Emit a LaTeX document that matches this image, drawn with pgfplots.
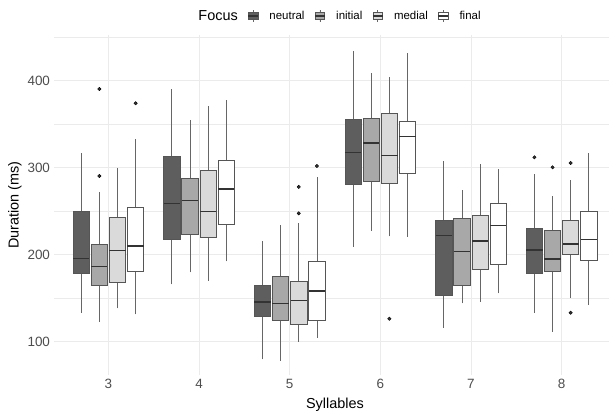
\documentclass[border=0pt]{standalone}
\usepackage{pgfplots}
\pgfplotsset{compat=1.18}
\usepackage{fontspec}
\setmainfont{Liberation Sans}
\definecolor{cneu}{HTML}{5E5E5E}
\definecolor{cini}{HTML}{A8A8A8}
\definecolor{cmed}{HTML}{DADADA}
\definecolor{cfin}{HTML}{FFFFFF}
\definecolor{edgec}{HTML}{555555}
\definecolor{whiskc}{HTML}{666666}
\definecolor{medc}{HTML}{333333}
\definecolor{gridc}{HTML}{EBEBEB}
\definecolor{tickc}{HTML}{4D4D4D}
% pos, fill, lower whisker, lower quartile, median, upper quartile, upper whisker
\newcommand{\bx}[7]{%
  \pgfmathsetmacro{\xl}{#1-0.09}%
  \pgfmathsetmacro{\xr}{#1+0.09}%
  \addplot[draw=whiskc, line width=0.7bp] coordinates {(#1,#3) (#1,#4)};
  \addplot[draw=whiskc, line width=0.7bp] coordinates {(#1,#6) (#1,#7)};
  \edef\tmp{\noexpand\addplot[fill=#2, draw=edgec, line width=0.7bp]
    coordinates {(\xl,#4) (\xr,#4) (\xr,#6) (\xl,#6) (\xl,#4)} -- cycle;
    \noexpand\addplot[draw=medc, line width=1.4bp]
    coordinates {(\xl,#5) (\xr,#5)};}%
  \tmp}
\pgfplotsset{
  boxkey/.style={legend image code/.code={
    \draw[draw=whiskc, line width=0.6bp] (0.17cm,-0.2cm) -- (0.17cm,0.2cm);
    \draw[##1, draw=edgec, line width=0.6bp] (0cm,-0.12cm) rectangle (0.34cm,0.12cm);
    \draw[draw=medc, line width=1.1bp] (0cm,0cm) -- (0.34cm,0cm);
  }},
  outl/.style={only marks, mark=*, mark size=1.7bp,
    mark options={fill=medc, draw=none}}
}
\begin{document}
\begin{tikzpicture}
\useasboundingbox (0bp,0bp) rectangle (609bp,412bp);
\begin{axis}[
  at={(54bp,36.7bp)}, anchor=south west,
  scale only axis, width=562bp, height=340.7bp,
  xmin=2.4, xmax=8.6, ymin=61, ymax=453,
  axis line style={draw=none},
  xtick={3,4,5,6,7,8}, ytick={100,200,300,400},
  minor ytick={150,250,350,450},
  major tick length=0pt, minor tick length=0pt,
  xmajorgrids, ymajorgrids, yminorgrids,
  major grid style={draw=gridc, line width=0.9bp},
  minor grid style={draw=gridc, line width=0.5bp},
  /pgf/number format/assume math mode=true,
  /pgf/number format/1000 sep={},
  tick label style={font=\fontsize{13.5}{15}\selectfont, text=tickc},
  xticklabel style={yshift=-0.5bp},
  yticklabel style={xshift=-0.5bp},
  xlabel={Syllables}, ylabel={Duration (ms)},
  label style={font=\fontsize{14.5}{16}\selectfont},
  xlabel style={at={(axis description cs:0.5,-0.086)}, anchor=center},
  ylabel style={at={(axis description cs:-0.0694,0.5)}, anchor=center},
  legend style={at={(axis description cs:0.5,1.0546)}, anchor=center,
    draw=none, fill=none, font=\fontsize{11.5}{13}\selectfont,
    /tikz/every odd column/.append style={column sep=9bp},
    /tikz/every even column/.append style={column sep=8bp}},
  legend columns=-1,
  legend cell align=left,
]
% legend
\addlegendimage{empty legend}
\addlegendentry{\fontsize{14.5}{16}\selectfont Focus}
\addlegendimage{boxkey, fill=cneu}
\addlegendentry{neutral}
\addlegendimage{boxkey, fill=cini}
\addlegendentry{initial}
\addlegendimage{boxkey, fill=cmed}
\addlegendentry{medial}
\addlegendimage{boxkey, fill=cfin}
\addlegendentry{final}
% 3 syllables
\bx{2.7}{cneu}{133}{178}{195.6}{250}{316.4}
\bx{2.9}{cini}{122.3}{165}{186}{211.7}{271.6}
\bx{3.1}{cmed}{138}{168}{204.4}{242.8}{299}
\bx{3.3}{cfin}{131}{181}{209.8}{253.9}{333}
% 4 syllables
\bx{3.7}{cneu}{165.7}{217}{258.5}{313.4}{390}
\bx{3.9}{cini}{179.5}{223}{262.4}{287.7}{354.4}
\bx{4.1}{cmed}{170}{219.3}{249.3}{296.9}{371.2}
\bx{4.3}{cfin}{192.2}{234.3}{275.4}{308}{377.4}
% 5 syllables
\bx{4.7}{cneu}{79.4}{128.4}{145.3}{164.5}{215.2}
\bx{4.9}{cini}{77.5}{123.8}{143.8}{174.5}{234.3}
\bx{5.1}{cmed}{99.7}{119.7}{147.3}{168.7}{236.6}
\bx{5.3}{cfin}{104.3}{124.3}{158}{192.2}{289.5}
% 6 syllables
\bx{5.7}{cneu}{209}{280.3}{317.6}{355.6}{434.2}
\bx{5.9}{cini}{227.4}{284.6}{328.3}{356.7}{408.5}
\bx{6.1}{cmed}{220.9}{282}{314.2}{362.8}{403.9}
\bx{6.3}{cfin}{220.5}{293.4}{335.6}{353.3}{432.2}
% 7 syllables
\bx{6.7}{cneu}{115.4}{153}{222}{238.9}{307.6}
\bx{6.9}{cini}{143.8}{164.9}{203.7}{241.7}{273.9}
\bx{7.1}{cmed}{145.7}{182.9}{215.5}{244.6}{303.8}
\bx{7.3}{cfin}{155.3}{188.3}{233.6}{259.3}{298.4}
% 8 syllables
\bx{7.7}{cneu}{133}{178.4}{205.2}{229.7}{292.2}
\bx{7.9}{cini}{111}{180.2}{195}{227.4}{267.3}
\bx{8.1}{cmed}{150.3}{200.6}{212}{239.4}{285.7}
\bx{8.3}{cfin}{141.9}{193.3}{217}{249.3}{317.2}
% outliers
\addplot[outl] coordinates {
  (2.9,390.4) (2.9,290.3) (3.3,374)
  (5.1,277.7) (5.1,247.4) (5.3,301.8)
  (6.1,126.1)
  (7.7,311.8) (7.9,300.3) (8.1,305.3) (8.1,133)};
\end{axis}
\end{tikzpicture}
\end{document}
